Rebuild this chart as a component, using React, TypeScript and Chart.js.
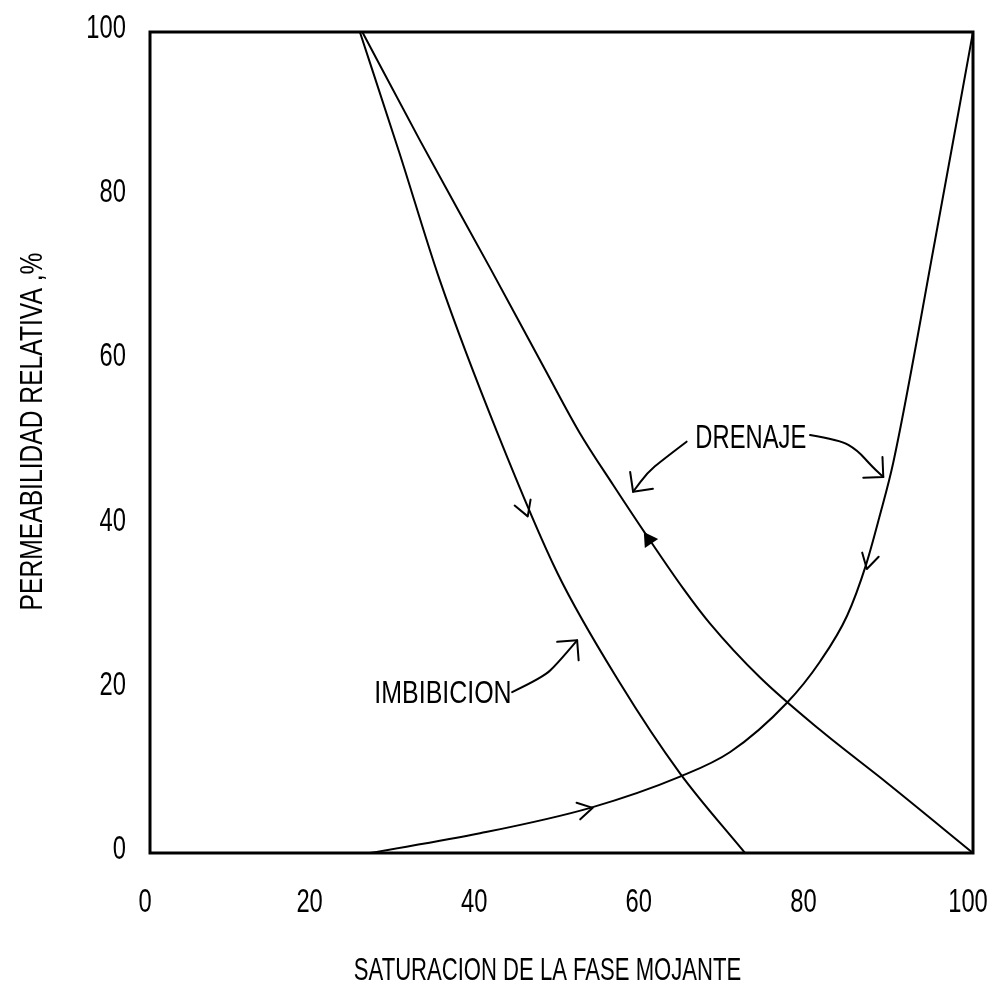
import { useEffect, useRef } from "react";
import { Chart, registerables } from "chart.js";

Chart.register(...registerables);

const FONT = "'Liberation Sans', Arial, sans-serif";

// Tick values (both axes)
const xTickValues = [0, 20, 40, 60, 80, 100];
const yTickValues = [0, 20, 40, 60, 80, 100];

const xTitle = "SATURACION DE LA FASE MOJANTE";
const yTitle = "PERMEABILIDAD RELATIVA ,%";

// Non-wetting phase, imbibition branch  [saturation %, kr %]
const noMojanteImbibicion: number[][] = [
  [25.5, 100], [30.3, 85.3], [35.2, 69.8], [42.2, 51.2], [49.5, 34.1],
  [57.1, 20.7], [64.4, 9.7], [72.3, 0],
];

// Non-wetting phase, drainage branch
const noMojanteDrenaje: number[][] = [
  [25.8, 100], [32.8, 86.8], [41.3, 71.3], [48.0, 58.9], [52.2, 51.2],
  [56.3, 44.8], [60.4, 38.6], [64.8, 32.2], [68.0, 28.0], [74.1, 21.4],
  [81.4, 15.0], [89.6, 8.5], [100, 0],
];

// Wetting phase
const mojante: number[][] = [
  [26.7, 0], [40.1, 2.4], [53.5, 5.5], [64.4, 9.3], [70.5, 12.3],
  [77.4, 18.3], [81.4, 23.3], [84.7, 28.9], [87.0, 35.1], [88.7, 41.2],
  [90.3, 47.5], [95.4, 74.7], [100, 100],
];

// Callout texts and positions (data coords)
const labelTexts = ["DRENAJE", "IMBIBICION"];
const labelPositions: number[][] = [[73.0, 50.8], [35.6, 19.6]];

// Callout arrow paths (data coords), arrowhead at the last point
const calloutDrenajeIzq: number[][] = [[65.2, 50.1], [62.3, 47.9], [60.4, 46.3], [58.7, 44.0]];
const calloutDrenajeDer: number[][] = [[80.2, 50.9], [83.8, 50.3], [85.9, 49.1], [87.8, 47.0], [89.1, 45.8]];
const calloutImbibicion: number[][] = [[44.0, 19.6], [47.8, 21.4], [49.5, 23.1], [51.9, 25.9]];

// Direction marks on the curves: [tipX, tipY, fromX, fromY]
const marcasDireccion: number[][] = [
  [45.9, 41.0, 44.3, 45.3],
  [87.1, 34.6, 88.2, 39.0],
  [53.8, 5.5, 50.2, 4.7],
];
// Filled direction mark on the drainage curve
const marcaRellena: number[] = [60.0, 39.1, 62.4, 35.5];

const toXY = (arr: number[][]) => arr.map(([x, y]) => ({ x, y }));

function arrowHead(ctx: CanvasRenderingContext2D, tip: number[], from: number[], len: number, half: number) {
  const ang = Math.atan2(tip[1] - from[1], tip[0] - from[0]);
  ctx.beginPath();
  ctx.moveTo(tip[0] - len * Math.cos(ang - half), tip[1] - len * Math.sin(ang - half));
  ctx.lineTo(tip[0], tip[1]);
  ctx.lineTo(tip[0] - len * Math.cos(ang + half), tip[1] - len * Math.sin(ang + half));
  ctx.stroke();
}

function drawText(
  ctx: CanvasRenderingContext2D, text: string, x: number, y: number,
  size: number, sx: number, align: CanvasTextAlign, baseline: CanvasTextBaseline, rotate = false,
) {
  ctx.save();
  ctx.translate(x, y);
  if (rotate) ctx.rotate(-Math.PI / 2);
  ctx.scale(sx, 1);
  ctx.font = `${size}px ${FONT}`;
  ctx.textAlign = align;
  ctx.textBaseline = baseline;
  ctx.fillStyle = "#000";
  ctx.fillText(text, 0, 0);
  ctx.restore();
}

const overlayPlugin = {
  id: "overlay",
  afterDraw(chart: any) {
    const { ctx, chartArea } = chart;
    const xs = chart.scales.x;
    const ys = chart.scales.y;
    const P = (p: number[]) => [xs.getPixelForValue(p[0]), ys.getPixelForValue(p[1])];
    ctx.save();
    ctx.strokeStyle = "#000";
    ctx.fillStyle = "#000";
    ctx.lineWidth = 3;
    ctx.strokeRect(chartArea.left, chartArea.top, chartArea.right - chartArea.left, chartArea.bottom - chartArea.top);

    ctx.lineWidth = 2;
    ctx.lineJoin = "round";
    ctx.lineCap = "round";
    for (const path of [calloutDrenajeIzq, calloutDrenajeDer, calloutImbibicion]) {
      const pts = path.map(P);
      ctx.beginPath();
      ctx.moveTo(pts[0][0], pts[0][1]);
      for (let i = 1; i < pts.length - 1; i++) {
        const mx = (pts[i][0] + pts[i + 1][0]) / 2;
        const my = (pts[i][1] + pts[i + 1][1]) / 2;
        ctx.quadraticCurveTo(pts[i][0], pts[i][1], mx, my);
      }
      ctx.lineTo(pts[pts.length - 1][0], pts[pts.length - 1][1]);
      ctx.stroke();
      arrowHead(ctx, pts[pts.length - 1], pts[pts.length - 2], 20, Math.PI / 4);
    }

    for (const m of marcasDireccion) {
      arrowHead(ctx, P([m[0], m[1]]), P([m[2], m[3]]), 17, Math.PI / 6);
    }
    {
      const tip = P([marcaRellena[0], marcaRellena[1]]);
      const from = P([marcaRellena[2], marcaRellena[3]]);
      const ang = Math.atan2(tip[1] - from[1], tip[0] - from[0]);
      const len = 16, half = Math.PI / 6;
      ctx.beginPath();
      ctx.moveTo(tip[0], tip[1]);
      ctx.lineTo(tip[0] - len * Math.cos(ang - half), tip[1] - len * Math.sin(ang - half));
      ctx.lineTo(tip[0] - len * Math.cos(ang + half), tip[1] - len * Math.sin(ang + half));
      ctx.closePath();
      ctx.fill();
    }

    // Callout labels
    drawText(ctx, labelTexts[0], P(labelPositions[0])[0], P(labelPositions[0])[1] + 12, 33, 0.72, "center", "alphabetic");
    drawText(ctx, labelTexts[1], P(labelPositions[1])[0], P(labelPositions[1])[1] + 11, 32, 0.78, "center", "alphabetic");

    // Tick labels
    for (const t of xs.ticks) {
      drawText(ctx, String(t.value), xs.getPixelForValue(t.value) - 5, 912, 33, 0.72, "center", "alphabetic");
    }
    for (const t of ys.ticks) {
      drawText(ctx, String(t.value), 126, ys.getPixelForValue(t.value) + 6, 33, 0.72, "right", "alphabetic");
    }

    // Axis titles
    drawText(ctx, xTitle, (chartArea.left + chartArea.right) / 2 - 14, 980, 32, 0.69, "center", "alphabetic");
    drawText(ctx, yTitle, 42, (chartArea.top + chartArea.bottom) / 2 - 11, 32, 0.77, "center", "alphabetic", true);

    ctx.restore();
  },
};

export default function App() {
  const ref = useRef<HTMLCanvasElement | null>(null);

  useEffect(() => {
    if (!ref.current) return;
    const lineStyle = {
      borderColor: "#000",
      borderWidth: 2,
      pointRadius: 0,
      fill: false,
      cubicInterpolationMode: "monotone" as const,
    };
    const chart = new Chart(ref.current, {
      type: "line",
      data: {
        datasets: [
          { label: "No mojante - imbibición", data: toXY(noMojanteImbibicion), ...lineStyle },
          { label: "No mojante - drenaje", data: toXY(noMojanteDrenaje), ...lineStyle },
          { label: "Mojante", data: toXY(mojante), ...lineStyle },
        ],
      },
      options: {
        animation: false,
        responsive: false,
        maintainAspectRatio: false,
        layout: { padding: { left: 0, top: 32, right: 19, bottom: 0 } },
        plugins: { legend: { display: false }, tooltip: { enabled: false } },
        scales: {
          x: {
            type: "linear",
            min: 0,
            max: 100,
            afterBuildTicks: (s: any) => { s.ticks = xTickValues.map((v) => ({ value: v })); },
            afterFit: (s: any) => { s.height = 134; s.paddingLeft = 0; s.paddingRight = 0; },
            grid: { display: false, drawTicks: false },
            border: { display: false },
            ticks: { display: false },
            title: { display: false, text: xTitle },
          },
          y: {
            type: "linear",
            min: 0,
            max: 100,
            afterBuildTicks: (s: any) => { s.ticks = yTickValues.map((v) => ({ value: v })); },
            afterFit: (s: any) => { s.width = 150; s.paddingTop = 0; s.paddingBottom = 0; },
            grid: { display: false, drawTicks: false },
            border: { display: false },
            ticks: { display: false },
            title: { display: false, text: yTitle },
          },
        },
      },
      plugins: [overlayPlugin],
    });
    return () => chart.destroy();
  }, []);

  return (
    <div style={{ position: "fixed", left: 0, top: 0, width: 992, height: 987, background: "#fff" }}>
      <canvas ref={ref} width={992} height={987} style={{ width: 992, height: 987, display: "block" }} />
    </div>
  );
}
